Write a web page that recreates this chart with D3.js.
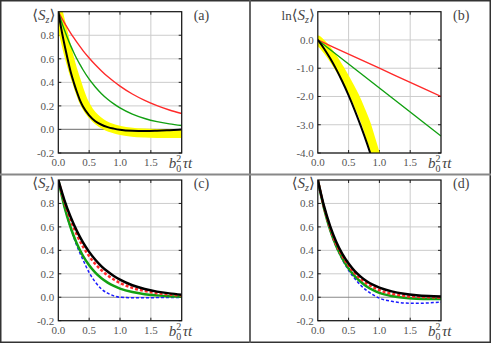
<!DOCTYPE html>
<meta charset="utf-8">
<style>
body { margin: 0; background: #fff; }
svg { display: block; }
.grid { stroke: #cccccc; stroke-width: 1; }
.zero { stroke: #888; stroke-width: 1.2; }
.box { fill: none; stroke: #111; stroke-width: 1.2; }
</style>
<svg width="491" height="343"></svg>
<script src="https://cdnjs.cloudflare.com/ajax/libs/d3/7.8.5/d3.min.js"></script>
<script>

// ---- data ----
var tA = [0, 0.05, 0.1, 0.15, 0.2, 0.25, 0.3, 0.35, 0.4, 0.5, 0.6, 0.7, 0.8, 0.9, 1.0, 1.2, 1.4, 1.6, 1.8, 2.0];
var aYellow = [1, 0.89, 0.78, 0.67, 0.57, 0.48, 0.40, 0.32, 0.25, 0.155, 0.095, 0.052, 0.024, 0.006, -0.008, -0.024, -0.031, -0.034, -0.035, -0.035];
var aBlack  = [1, 0.85, 0.72, 0.60, 0.49, 0.40, 0.32, 0.25, 0.195, 0.12, 0.07, 0.04, 0.02, 0.007, -0.003, -0.012, -0.014, -0.011, -0.006, 0.0];
var aRed    = [1, 0.951, 0.905, 0.861, 0.819, 0.779, 0.741, 0.705, 0.670, 0.607, 0.549, 0.497, 0.449, 0.407, 0.368, 0.301, 0.247, 0.202, 0.165, 0.135];
var aGreen  = [1, 0.918, 0.844, 0.775, 0.712, 0.654, 0.600, 0.552, 0.507, 0.427, 0.361, 0.304, 0.257, 0.217, 0.183, 0.130, 0.093, 0.066, 0.047, 0.033];

var tBy = [0, 0.1, 0.2, 0.35, 0.48, 0.6, 0.7, 0.79, 0.86, 0.93];
var bYellow = [0, -0.22, -0.5, -1.0, -1.5, -2.0, -2.5, -3.0, -3.5, -4.0];
var tBk = [0, 0.1, 0.2, 0.3, 0.4, 0.5, 0.6, 0.7, 0.8, 0.86];
var bBlack = [0, -0.30, -0.65, -1.04, -1.48, -1.96, -2.49, -3.06, -3.67, -4.06];
var tBl = [0, 0.5, 1.0, 1.5, 2.0];
var bRed = [0, -0.5, -1.0, -1.5, -2.0];
var bGreen = [0, -0.85, -1.7, -2.55, -3.4];

var tC = [0, 0.1, 0.2, 0.3, 0.4, 0.5, 0.6, 0.7, 0.8, 0.9, 1.0, 1.2, 1.4, 1.6, 1.8, 2.0];
var cBlack = [1, 0.827, 0.684, 0.566, 0.468, 0.387, 0.320, 0.264, 0.219, 0.181, 0.150, 0.102, 0.070, 0.048, 0.033, 0.022];
var cRed   = [1, 0.811, 0.657, 0.533, 0.432, 0.350, 0.284, 0.230, 0.186, 0.151, 0.122, 0.080, 0.053, 0.035, 0.023, 0.015];
var cGreen = [1, 0.771, 0.595, 0.458, 0.353, 0.273, 0.210, 0.162, 0.125, 0.096, 0.074, 0.044, 0.026, 0.016, 0.009, 0.006];
var cBlue  = [1, 0.77, 0.59, 0.44, 0.32, 0.21, 0.13, 0.07, 0.035, 0.012, 0.0, -0.004, -0.004, -0.003, -0.002, -0.002];

var dBlack = [1, 0.779, 0.607, 0.472, 0.368, 0.287, 0.223, 0.174, 0.135, 0.105, 0.082, 0.050, 0.030, 0.018, 0.011, 0.007];
var dRed   = [1, 0.77, 0.59, 0.45, 0.35, 0.27, 0.205, 0.155, 0.115, 0.085, 0.06, 0.03, 0.012, 0.004, 0.0, -0.002];
var dGreen = [1, 0.76, 0.575, 0.435, 0.33, 0.245, 0.18, 0.13, 0.09, 0.06, 0.037, 0.01, -0.005, -0.012, -0.015, -0.015];
var dBlue  = [1, 0.76, 0.57, 0.43, 0.32, 0.23, 0.16, 0.10, 0.055, 0.02, -0.008, -0.035, -0.049, -0.052, -0.048, -0.042];

var xTicks = [0, 0.5, 1.0, 1.5];
var yTicksS = [-0.2, 0, 0.2, 0.4, 0.6, 0.8];
var yTicksLn = [-4, -3, -2, -1, 0];

var SERIF = "Liberation Serif, DejaVu Serif, serif";

var svg = d3.select("svg");

// frame + dividers
svg.append("rect").attr("x", 0.75).attr("y", 0.75).attr("width", 489.5).attr("height", 341.5)
    .attr("fill", "none").attr("stroke", "#333").attr("stroke-width", 1.5);
svg.append("line").attr("x1", 250).attr("x2", 250).attr("y1", 0).attr("y2", 343)
    .attr("stroke", "#555").attr("stroke-width", 1.8);
svg.append("line").attr("x1", 0).attr("x2", 491).attr("y1", 174.5).attr("y2", 174.5)
    .attr("stroke", "#888").attr("stroke-width", 1.8);

function mk(t, v) { return t.map(function(d, i) { return [d, v[i]]; }); }

function label(g, x, y, size, txt) {
  return g.append("text").attr("x", x).attr("y", y)
      .attr("font-family", SERIF).attr("font-size", size).attr("fill", "#444").text(txt);
}

function panel(p) {
  var x = d3.scaleLinear().domain([0, 2]).range([p.left, p.right]);
  var y = d3.scaleLinear().domain(p.ydom).range([p.bottom, p.top]);
  var g = svg.append("g");
  var id = "clip" + p.name;
  g.append("clipPath").attr("id", id).append("rect")
      .attr("x", p.left).attr("y", p.top).attr("width", p.right - p.left).attr("height", p.bottom - p.top);

  // grid
  g.selectAll(".gx").data(xTicks.slice(1).concat([2])).enter().append("line")
      .attr("class", "grid").attr("x1", x).attr("x2", x).attr("y1", p.top).attr("y2", p.bottom);
  g.selectAll(".gy").data(p.yticks).enter().append("line")
      .attr("class", function(d) { return d === 0 && p.zeroLine ? "zero" : "grid"; })
      .attr("x1", p.left).attr("x2", p.right).attr("y1", y).attr("y2", y);

  // inward tick marks
  g.selectAll(".tx").data(xTicks.slice(1)).enter().append("path")
      .attr("d", function(d) { return "M" + x(d) + "," + p.bottom + "v-3M" + x(d) + "," + p.top + "v3"; })
      .attr("stroke", "#222");
  g.selectAll(".ty").data(p.yticks).enter().append("path")
      .attr("d", function(d) { return "M" + p.left + "," + y(d) + "h3M" + p.right + "," + y(d) + "h-3"; })
      .attr("stroke", "#222");

  // curves
  var line = d3.line().x(function(d) { return x(d[0]); }).y(function(d) { return y(d[1]); })
      .curve(d3.curveMonotoneX);
  var cg = g.append("g").attr("clip-path", "url(#" + id + ")");
  p.series.forEach(function(s) {
    cg.append("path").datum(mk(s.t, s.v))
        .attr("d", line)
        .attr("fill", "none")
        .attr("stroke", s.color)
        .attr("stroke-width", s.w)
        .attr("stroke-linecap", s.cap || "butt")
        .attr("stroke-dasharray", s.dash || null);
  });

  g.append("rect").attr("class", "box")
      .attr("x", p.left).attr("y", p.top).attr("width", p.right - p.left).attr("height", p.bottom - p.top);

  // tick labels
  g.selectAll(".lx").data(xTicks).enter().append("text")
      .attr("font-family", SERIF).attr("font-size", 11).attr("fill", "#555")
      .attr("text-anchor", "middle")
      .attr("x", x).attr("y", p.bottom + 13)
      .text(function(d) { return d.toFixed(1); });
  g.selectAll(".ly").data(p.yticks).enter().append("text")
      .attr("font-family", SERIF).attr("font-size", 11).attr("fill", "#555")
      .attr("text-anchor", "end")
      .attr("x", p.left - 4).attr("y", function(d) { return y(d) + 4; })
      .text(function(d) { return d.toFixed(1); });

  // y label
  var yl = label(g, p.left - 3, p.top + 8, 15, null).attr("text-anchor", "end");
  if (p.ln) yl.append("tspan").attr("font-size", 13).text("ln");
  yl.append("tspan").text("\u27E8");
  yl.append("tspan").attr("font-style", "italic").text("S");
  yl.append("tspan").attr("font-style", "italic").attr("font-size", 10).attr("dy", 3).text("z");
  yl.append("tspan").attr("dy", -3).text("\u27E9");

  // x label  b_0^2 tau t
  var bx = x(2) - 13, by = p.bottom + 15;
  label(g, bx, by, 15, "b").attr("font-style", "italic");
  label(g, bx + 7.5, by - 6, 10, "2");
  label(g, bx + 7.5, by + 4, 10, "0");
  label(g, bx + 14, by, 15, "\u03C4t").attr("font-style", "italic");

  // panel letter
  label(g, p.right + 12, p.top + 8, 14, p.letter);
}

var Y = "#ffff00", R = "#ff2a2a", G = "#12a012", K = "#000", B = "#1a1aff";

panel({ name: "a", letter: "(a)", left: 58.3, right: 181.7, top: 11.7, bottom: 153,
  ydom: [-0.2, 1.0], yticks: yTicksS, zeroLine: true,
  series: [
    { t: tA, v: aYellow, color: Y, w: 9, cap: "round" },
    { t: tA, v: aRed, color: R, w: 1.4 },
    { t: tA, v: aGreen, color: G, w: 1.4 },
    { t: tA, v: aBlack, color: K, w: 2 }
  ] });

panel({ name: "b", letter: "(b)", left: 317.8, right: 441, top: 11.7, bottom: 153,
  ydom: [-4, 1], yticks: yTicksLn, zeroLine: false, ln: true,
  series: [
    { t: tBy, v: bYellow, color: Y, w: 9, cap: "round" },
    { t: tBl, v: bRed, color: R, w: 1.4 },
    { t: tBl, v: bGreen, color: G, w: 1.4 },
    { t: tBk, v: bBlack, color: K, w: 2 }
  ] });

panel({ name: "c", letter: "(c)", left: 58.3, right: 181.7, top: 180, bottom: 320.7,
  ydom: [-0.2, 1.0], yticks: yTicksS, zeroLine: true,
  series: [
    { t: tC, v: cBlue, color: B, w: 1.5, dash: "3,2" },
    { t: tC, v: cGreen, color: G, w: 2.5 },
    { t: tC, v: cRed, color: R, w: 2.5, dash: "3,2" },
    { t: tC, v: cBlack, color: K, w: 2.5 }
  ] });

panel({ name: "d", letter: "(d)", left: 317.8, right: 441, top: 180, bottom: 320.7,
  ydom: [-0.2, 1.0], yticks: yTicksS, zeroLine: true,
  series: [
    { t: tC, v: dBlue, color: B, w: 1.5, dash: "3,2" },
    { t: tC, v: dGreen, color: G, w: 2.5 },
    { t: tC, v: dRed, color: R, w: 2.5, dash: "3,2" },
    { t: tC, v: dBlack, color: K, w: 2.5 }
  ] });

</script>
